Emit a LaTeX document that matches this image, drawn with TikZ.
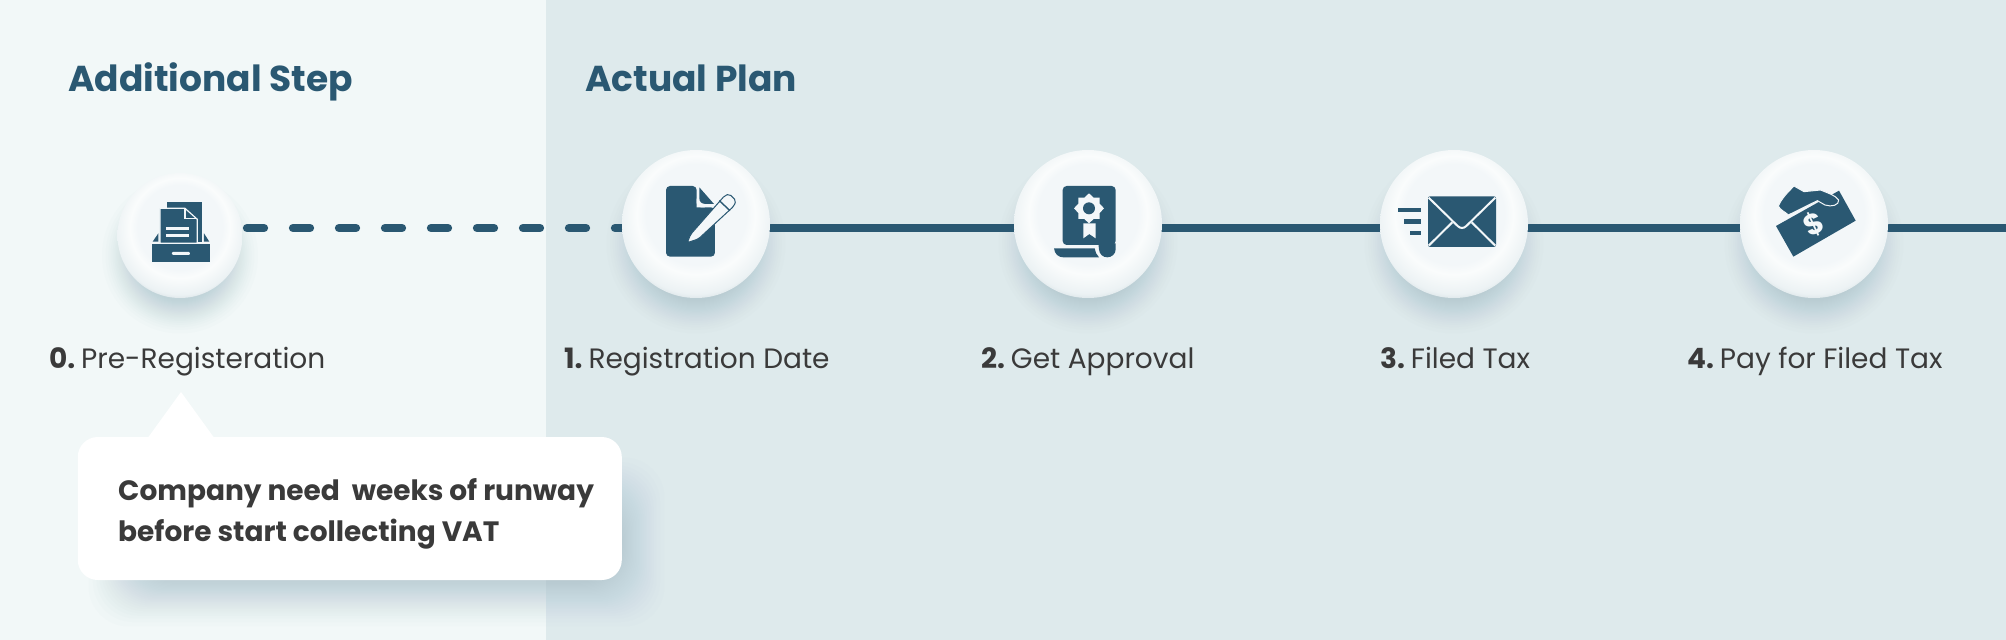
\documentclass[tikz,border=0pt]{standalone}
\usepackage{fontspec}
\setmainfont{Poppins}
\definecolor{leftbg}{HTML}{F2F8F8}
\definecolor{rightbg}{HTML}{DEEAEC}
\definecolor{ink}{HTML}{2A5872}
\definecolor{txt}{HTML}{3A3A3A}
\definecolor{ballmid}{HTML}{F3F7F9}
\definecolor{balltop}{HTML}{FAFCFC}
\definecolor{ballrim}{HTML}{ECF2F4}
\definecolor{ballshadow}{HTML}{A9C2CD}
\definecolor{ballbottom}{HTML}{C4D2D8}
\pgfdeclareradialshading{ballshade}{\pgfpoint{0bp}{5bp}}{
  color(0bp)=(ballmid); color(17bp)=(ballmid); color(20bp)=(balltop);
  color(26bp)=(ballrim); color(30.5bp)=(ballbottom); color(50bp)=(ballbottom)}
\pgfdeclarelayer{back}
\pgfsetlayers{back,main}
\newcommand{\softdisc}[3]{%
  \foreach \i in {1,...,24}{
    \pgfmathsetmacro{\k}{42*sqrt(\i/24)}
    \fill[ballshadow,fill opacity=.035] (#1,#2+20) circle[radius=#3+24-\k];}}
\newcommand{\softnote}{%
  \foreach \i in {1,...,30}{
    \pgfmathsetmacro{\k}{58*sqrt(\i/30)}
    \fill[ballshadow,fill opacity=.03,rounded corners=40pt]
      (78+\k,437+10+\k) rectangle (621+54-\k,579+58-\k);}}
\tikzset{
  ball/.style={circle,inner sep=0pt,shading=ballshade},
  bigball/.style={ball,minimum size=148pt},
  smallball/.style={ball,minimum size=125pt},
  heading/.style={font=\bfseries\fontsize{36}{42}\selectfont,text=ink,inner sep=0pt},
  caption/.style={font=\fontsize{28}{32}\selectfont,text=txt,inner sep=0pt},
  notebox/.style={fill=white,rounded corners=20pt,minimum width=544pt,minimum height=143pt,inner sep=0pt},
  notetext/.style={font=\bfseries\fontsize{28}{41}\selectfont,text=txt,inner sep=0pt},
  link/.style={ink,line width=8.3pt},
  dashlink/.style={link,line cap=round,dash pattern=on 17pt off 29pt},
  icon/.style={fill=ink,draw=none},
  cut/.style={fill=ballmid,draw=none},
  cutline/.style={draw=ballmid,line width=1.6pt},
}
\newcommand{\num}[1]{\textbf{#1}\hspace{.21em}}
\begin{document}
\begin{tikzpicture}[x=1pt,y=-1pt]
\useasboundingbox (0,0) rectangle (2006,640);
\begin{pgfonlayer}{back}
  \fill[leftbg] (0,0) rectangle (546,640);
  \fill[rightbg] (546,0) rectangle (2006,640);
  \softdisc{180}{235.5}{62.5}
  \softdisc{696}{224}{74}
  \softdisc{1088}{224}{74}
  \softdisc{1454}{224}{74}
  \softdisc{1814}{224}{74}
  \softnote
\end{pgfonlayer}

\coordinate (l) at (0,228);
\coordinate (lineend) at (2006,228);
\node[smallball] (s0) at (180,235.5) {};
\node[bigball] (s1) at (696,224) {};
\node[bigball] (s2) at (1088,224) {};
\node[bigball] (s3) at (1454,224) {};
\node[bigball] (s4) at (1814,224) {};

\begin{pgfonlayer}{back}
  \draw[dashlink,shorten <=67pt] (s0 |- l) -- (s1 |- l);
  \draw[link] (s1 |- l) -- (s2 |- l);
  \draw[link] (s2 |- l) -- (s3 |- l);
  \draw[link] (s3 |- l) -- (s4 |- l);
  \draw[link] (s4 |- l) -- (lineend);
\end{pgfonlayer}

\node[heading,anchor=base west] (t0) at (68,91) {Additional Step};
\node[heading,anchor=base west] (t1) at (585,91) {Actual Plan};

\node[caption,anchor=base west] (c0) at (49,368) {\num{0.}Pre-Registeration};
\node[caption,anchor=base west] (c1) at (564,368) {\num{1.}Registration Date};
\node[caption,anchor=base west] (c2) at (981,368) {\num{2.}Get Approval};
\node[caption,anchor=base west] (c3) at (1380,368) {\num{3.}Filed Tax};
\node[caption,anchor=base west] (c4) at (1687,368) {\num{4.}Pay for Filed Tax};

% callout
\node[notebox] (note) at (349.8,508.5) {};
\fill[white] (147,439) -- (181,392) -- (215,439) -- cycle;
\node[notetext,anchor=base west] (n1) at (118,500) {Company need~ weeks of runway};
\node[notetext,anchor=base west] (n2) at (118,541) {before start collecting VAT};

% icon 0: tray with papers
\begin{scope}[shift={(100,150)},x=.3333pt,y=-.3333pt]
  \fill[icon] (200,155) rectangle (305,275);
  \fill[icon,draw=ballmid,line width=1.2pt] (180,175) -- (255,175) -- (292,208) -- (292,280) -- (180,280) -- cycle;
  \draw[cutline] (255,175) -- (255,205) -- (292,205);
  \fill[cut] (198,231) rectangle (266,240);
  \fill[cut] (198,252) rectangle (266,261);
  \fill[icon] (158,275) -- (175,250) -- (175,275) -- cycle;
  \fill[icon] (328,275) -- (312,250) -- (312,275) -- cycle;
  \fill[icon] (155,283) rectangle (330,337);
  \fill[cut,rounded corners=1pt] (216,306) rectangle (270,315);
\end{scope}

% icon 1: document and pencil
\begin{scope}[shift={(600,130)},x=.3333pt,y=-.3333pt]
  \fill[icon,rounded corners=4pt] (198,168) -- (290,168) -- (290,232) -- (345,232) -- (345,380) -- (198,380) -- cycle;
  \fill[cut] (290,205) .. controls (290,222) and (298,232) .. (315,232) -- (290,232) -- cycle;
  \fill[icon] (298,172) -- (342,222) -- (318,222) .. controls (305,222) and (298,215) .. (298,205) -- cycle;
  \fill[cut,draw=ink,line width=1pt,rounded corners=2pt]
     (262,338) -- (272,313) -- (374,197) -- (388,192) -- (408,212) -- (402,228) -- (295,327) -- cycle;
  \draw[draw=ink,line width=1.4pt] (358,212) -- (390,242);
\end{scope}

% icon 2: certificate scroll
\begin{scope}[shift={(1000,130)},x=.3333pt,y=-.3333pt]
  \fill[icon,rounded corners=4pt] (188,168) -- (347,168) -- (347,345) -- (188,345) -- cycle;
  \fill[icon] (295,340) -- (347,340) -- (347,358) .. controls (347,372) and (335,382) .. (322,382)
     .. controls (308,382) and (298,372) .. (297,358) -- cycle;
  \fill[icon] (162,355) -- (284,355) .. controls (285,365) and (290,375) .. (297,382) -- (190,382)
     .. controls (175,382) and (164,372) .. (162,355) -- cycle;
  \fill[cut] (267,190) -- (281,203) -- (299,203) -- (299,221) -- (312,235) -- (299,249) -- (299,267)
     -- (281,267) -- (267,280) -- (253,267) -- (235,267) -- (235,249) -- (222,235) -- (235,221) -- (235,203) -- (253,203) -- cycle;
  \fill[icon] (267,235) circle[radius=18];
  \fill[cut] (250,280) -- (287,280) -- (287,325) -- (268,312) -- (250,325) -- cycle;
\end{scope}

% icon 3: envelope
\begin{scope}[shift={(1360,130)},x=.3333pt,y=-.3333pt]
  \fill[icon,rounded corners=2pt] (204,199) rectangle (408,351);
  \draw[cutline,line width=2pt] (206,203) -- (293,288) .. controls (301,296) and (311,296) .. (319,288) -- (406,203);
  \draw[cutline,line width=2pt] (206,347) -- (277,277);
  \draw[cutline,line width=2pt] (406,347) -- (335,277);
  \fill[ink] (114,233) rectangle (184,247);
  \fill[ink] (131,268) rectangle (184,281);
  \fill[ink] (149,303) rectangle (184,316);
\end{scope}

% icon 4: hand and banknote
\begin{scope}[shift={(1730,130)},x=.3333pt,y=-.3333pt]
  \fill[icon] (138,288) -- (327,182) -- (377,272) -- (190,380) -- cycle;
  \fill[icon,draw=ballmid,line width=1pt] (145,228) .. controls (155,205) and (175,185) .. (192,168)
     -- (222,185) -- (272,180) .. controls (295,190) and (315,195) .. (326,210)
     .. controls (328,225) and (305,232) .. (285,225) -- (262,212) -- (175,255)
     .. controls (165,245) and (150,240) .. (145,228) -- cycle;
  \node[font=\bfseries\fontsize{29}{29}\selectfont,text=ballmid,rotate=25,inner sep=0pt] (dollar) at (252,282) {\$};
\end{scope}
\end{tikzpicture}
\end{document}
